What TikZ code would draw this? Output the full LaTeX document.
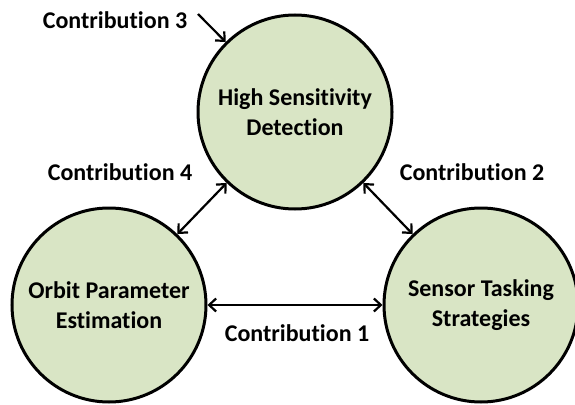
\documentclass[tikz,border=0pt]{standalone}
\usepackage{fontspec}
\setmainfont{Carlito}[Ligatures=NoCommon]
\usetikzlibrary{arrows.meta}
\definecolor{circfill}{HTML}{D9E5C5}
\tikzset{
  bubble/.style={circle, draw=black, line width=3pt, fill=circfill, minimum size=194pt, inner sep=0pt, align=center, font=\fontsize{24}{30}\selectfont\bfseries},
  lbl/.style={font=\fontsize{24}{30}\selectfont\bfseries, inner sep=0pt, anchor=center},
  conn/.style={line width=2.2pt, {Straight Barb[length=7pt,width=13pt,line width=2.2pt]}-{Straight Barb[length=7pt,width=13pt,line width=2.2pt]}},
  oneway/.style={line width=2.2pt, -{Straight Barb[length=7pt,width=13pt,line width=2.2pt]}}
}
\begin{document}
\begin{tikzpicture}[x=1pt,y=-1pt]
\useasboundingbox (0,0) rectangle (575,404);
\node[bubble] (top) at (295,112) {High Sensitivity\\Detection};
\node[bubble] (left) at (109,305) {Orbit Parameter\\Estimation};
\node[bubble] (right) at (481,305) {Sensor Tasking\\Strategies};
\node[lbl] (c3) at (115,20) {Contribution 3};
\node[lbl] (c4) at (120,172) {Contribution 4};
\node[lbl] (c2) at (472,172) {Contribution 2};
\node[lbl] (c1) at (297,333) {Contribution 1};
\coordinate (c3s) at (198,14);
\draw[oneway] (c3s) -- (top);
\draw[conn] (left) -- (top);
\draw[conn] (top) -- (right);
\draw[conn] (left) -- (right);
\end{tikzpicture}
\end{document}
